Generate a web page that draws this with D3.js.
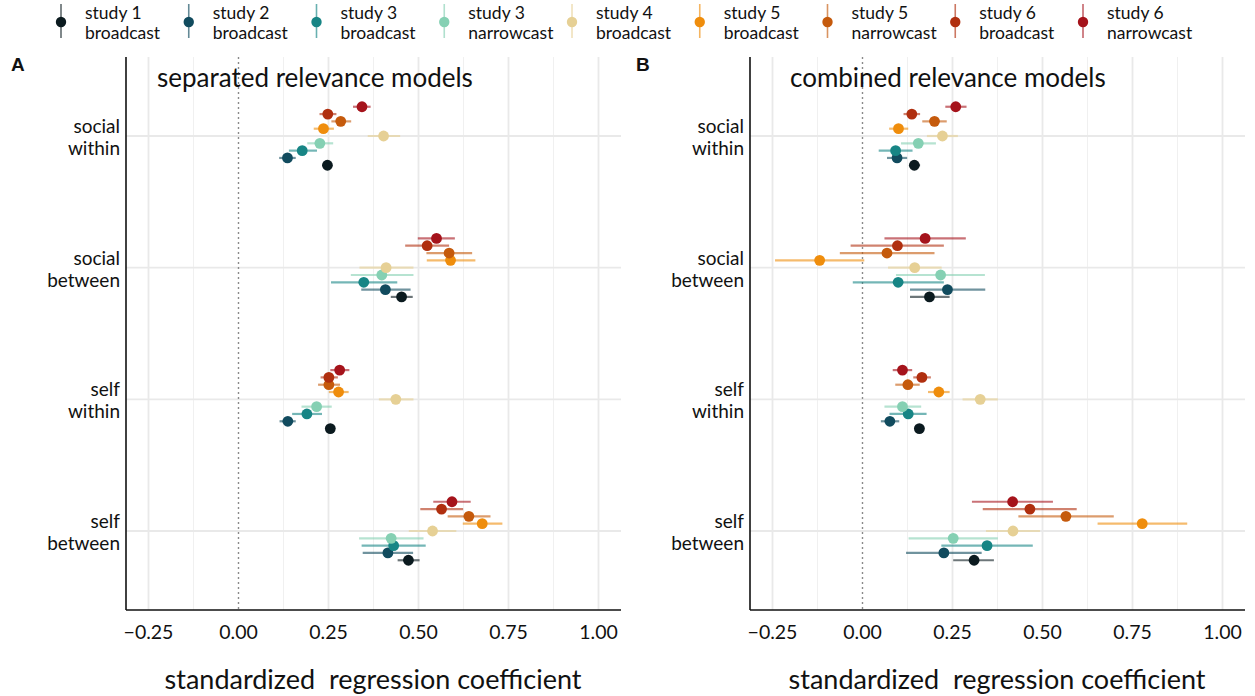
<!DOCTYPE html>
<html>
<head>
<meta charset="utf-8">
<script src="https://cdn.jsdelivr.net/npm/d3@7"></script>
<style>
  html, body { margin: 0; padding: 0; background: #ffffff; }
  svg text { font-family: "Lato", "Noto Sans", sans-serif; fill: #111; }
</style>
</head>
<body>
<svg id="chart" width="1255" height="696"></svg>
<script>
// ---- data ---------------------------------------------------------------
const categories = ["social\nwithin", "social\nbetween", "self\nwithin", "self\nbetween"];

const seriesNames = ["study 1\nbroadcast", "study 2\nbroadcast", "study 3\nbroadcast",
  "study 3\nnarrowcast", "study 4\nbroadcast", "study 5\nbroadcast",
  "study 5\nnarrowcast", "study 6\nbroadcast", "study 6\nnarrowcast"];

const seriesColors = ["#0b1a1f", "#114b5e", "#178585", "#85d0b3", "#e6d095",
  "#ef8d0c", "#c55a0c", "#b02f0f", "#a5131b"];

const panelTitles = ["separated relevance models", "combined relevance models"];
const panelTags = ["A", "B"];
const xTicks = [-0.25, 0, 0.25, 0.5, 0.75, 1.0];
const xTitle = "standardized  regression coefficient";

// separated models: rows = categories, columns = series
const sepEst = [
  [0.247, 0.136, 0.177, 0.226, 0.403, 0.236, 0.284, 0.248, 0.343],
  [0.453, 0.408, 0.348, 0.398, 0.410, 0.589, 0.585, 0.524, 0.550],
  [0.255, 0.137, 0.190, 0.217, 0.437, 0.278, 0.251, 0.251, 0.281],
  [0.472, 0.415, 0.431, 0.424, 0.539, 0.677, 0.640, 0.564, 0.593]
];
const sepLow = [
  [0.234, 0.113, 0.140, 0.191, 0.359, 0.209, 0.258, 0.225, 0.318],
  [0.423, 0.341, 0.257, 0.312, 0.336, 0.523, 0.522, 0.463, 0.498],
  [0.244, 0.114, 0.149, 0.175, 0.390, 0.251, 0.221, 0.228, 0.255],
  [0.442, 0.345, 0.342, 0.335, 0.473, 0.623, 0.581, 0.505, 0.541]
];
const sepHigh = [
  [0.260, 0.159, 0.218, 0.263, 0.449, 0.265, 0.313, 0.272, 0.367],
  [0.484, 0.478, 0.441, 0.486, 0.486, 0.658, 0.649, 0.585, 0.601],
  [0.268, 0.159, 0.232, 0.259, 0.486, 0.306, 0.282, 0.276, 0.308],
  [0.503, 0.485, 0.520, 0.514, 0.605, 0.733, 0.700, 0.624, 0.645]
];

// combined models
const comEst = [
  [0.144, 0.096, 0.092, 0.155, 0.222, 0.100, 0.200, 0.137, 0.259],
  [0.186, 0.236, 0.099, 0.217, 0.145, -0.119, 0.068, 0.097, 0.174],
  [0.158, 0.076, 0.127, 0.111, 0.327, 0.212, 0.126, 0.165, 0.111],
  [0.310, 0.226, 0.346, 0.252, 0.418, 0.777, 0.565, 0.465, 0.417]
];
const comLow = [
  [0.130, 0.068, 0.045, 0.107, 0.179, 0.074, 0.166, 0.114, 0.230],
  [0.132, 0.132, -0.027, 0.093, 0.071, -0.243, -0.063, -0.033, 0.061],
  [0.145, 0.051, 0.075, 0.061, 0.278, 0.182, 0.091, 0.141, 0.084],
  [0.252, 0.121, 0.219, 0.128, 0.343, 0.653, 0.433, 0.334, 0.304]
];
const comHigh = [
  [0.160, 0.124, 0.139, 0.204, 0.265, 0.127, 0.234, 0.160, 0.289],
  [0.242, 0.341, 0.226, 0.340, 0.220, 0.005, 0.200, 0.226, 0.287],
  [0.172, 0.102, 0.178, 0.163, 0.376, 0.242, 0.159, 0.190, 0.138],
  [0.365, 0.331, 0.473, 0.376, 0.493, 0.902, 0.698, 0.595, 0.529]
];

// ---- layout ---------------------------------------------------------------
const svg = d3.select("#chart");
const panelTop = 57, panelBottom = 610;
const panelLefts = [126, 750];
const panelWidth = 495;

const panels = [
  { est: sepEst, low: sepLow, high: sepHigh },
  { est: comEst, low: comLow, high: comHigh }
];

const y = d3.scalePoint().domain(categories).range([panelTop, panelBottom]).padding(0.6);
const dodge = d3.scalePoint().domain(seriesNames)
  .range([y.step() * 0.2222, -y.step() * 0.2222]);

function multiline(sel, text, lineH) {
  const lines = text.split("\n");
  lines.forEach((ln, i) => {
    sel.append("tspan").attr("x", sel.attr("x"))
      .attr("dy", i === 0 ? 0 : lineH).text(ln);
  });
}

panels.forEach((p, pi) => {
  const left = panelLefts[pi];
  const x = d3.scaleLinear().domain([-0.3125, 1.0625]).range([left, left + panelWidth]);
  const g = svg.append("g");

  // minor vertical grid
  const minor = d3.range(-0.125, 1.01, 0.25);
  g.selectAll(".minor").data(minor).join("line")
    .attr("x1", d => x(d)).attr("x2", d => x(d))
    .attr("y1", panelTop).attr("y2", panelBottom)
    .attr("stroke", "#f0f0f0").attr("stroke-width", 1);
  // major vertical grid
  g.selectAll(".major").data(xTicks.filter(d => d !== 0)).join("line")
    .attr("x1", d => x(d)).attr("x2", d => x(d))
    .attr("y1", panelTop).attr("y2", panelBottom)
    .attr("stroke", "#e9e9e9").attr("stroke-width", 1.8);
  // horizontal grid at categories
  g.selectAll(".hgrid").data(categories).join("line")
    .attr("x1", left).attr("x2", left + panelWidth)
    .attr("y1", d => y(d)).attr("y2", d => y(d))
    .attr("stroke", "#e9e9e9").attr("stroke-width", 1.8);

  // zero reference
  g.append("line")
    .attr("x1", x(0)).attr("x2", x(0))
    .attr("y1", panelTop).attr("y2", panelBottom)
    .attr("stroke", "#8a8a8a").attr("stroke-width", 1.4)
    .attr("stroke-dasharray", "2,3");

  // intervals and points
  categories.forEach((cat, ci) => {
    seriesNames.forEach((s, si) => {
      const yy = y(cat) + dodge(s);
      g.append("line")
        .attr("x1", x(p.low[ci][si])).attr("x2", x(p.high[ci][si]))
        .attr("y1", yy).attr("y2", yy)
        .attr("stroke", seriesColors[si]).attr("stroke-width", 2.2)
        .attr("stroke-opacity", 0.6);
      g.append("circle")
        .attr("cx", x(p.est[ci][si])).attr("cy", yy).attr("r", 5.4)
        .attr("fill", seriesColors[si]);
    });
  });

  // axis lines
  g.append("line").attr("x1", left).attr("x2", left)
    .attr("y1", panelTop).attr("y2", panelBottom)
    .attr("stroke", "#111").attr("stroke-width", 1.6);
  g.append("line").attr("x1", left).attr("x2", left + panelWidth)
    .attr("y1", panelBottom).attr("y2", panelBottom)
    .attr("stroke", "#111").attr("stroke-width", 1.6);

  // x tick labels
  g.selectAll(".xtick").data(xTicks).join("text")
    .attr("x", d => x(d)).attr("y", 639)
    .attr("text-anchor", "middle").attr("font-size", 19.5)
    .text(d => d3.format(".2f")(d));

  // y labels
  categories.forEach(cat => {
    const t = g.append("text")
      .attr("x", left - 6).attr("y", y(cat) - 3)
      .attr("text-anchor", "end").attr("font-size", 19);
    multiline(t, cat, 22);
  });

  // x title
  g.append("text").attr("x", left + panelWidth / 2 - 0.5).attr("y", 689)
    .attr("text-anchor", "middle").attr("font-size", 27)
    .attr("xml:space", "preserve")
    .text(xTitle);

  // panel title
  g.append("text").attr("x", pi === 0 ? 157 : 790).attr("y", 87)
    .attr("font-size", 26).text(panelTitles[pi]);

  // panel tag
  g.append("text").attr("x", pi === 0 ? 11 : 636).attr("y", 71)
    .attr("font-size", 19).attr("font-weight", "bold")
    .style("font-family", "Liberation Sans, Arial, sans-serif")
    .text(panelTags[pi]);
});

// ---- legend ---------------------------------------------------------------
const legendX = d3.scalePoint().domain(seriesNames).range([61, 1083]);
const lg = svg.append("g");
seriesNames.forEach((s, si) => {
  const kx = legendX(s);
  lg.append("line").attr("x1", kx).attr("x2", kx).attr("y1", 4).attr("y2", 38)
    .attr("stroke", seriesColors[si]).attr("stroke-width", 1.6)
    .attr("stroke-opacity", 0.65);
  lg.append("circle").attr("cx", kx).attr("cy", 22).attr("r", 5.2)
    .attr("fill", seriesColors[si]);
  // two separate lines per legend label
  s.split("\n").forEach((ln, li) => {
    lg.append("text").attr("x", kx + 24).attr("y", 19 + li * 19.5)
      .attr("font-size", 17.5).text(ln);
  });
});
</script>
</body>
</html>
